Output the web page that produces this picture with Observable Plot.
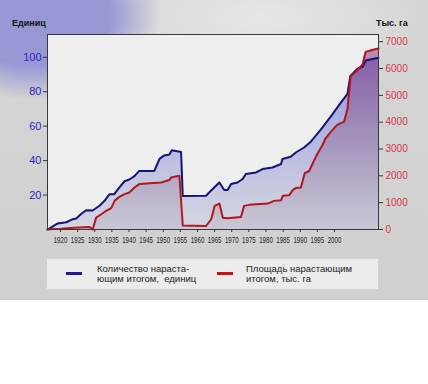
<!DOCTYPE html>
<html><head><meta charset="utf-8">
<script src="https://cdn.jsdelivr.net/npm/d3@7"></script>
<script src="https://cdn.jsdelivr.net/npm/@observablehq/plot@0.6"></script>
<style>
body{margin:0;background:#fff;}
#wrap{position:relative;width:428px;height:300px;overflow:hidden;font-family:"Liberation Sans",Arial,sans-serif;
background:
 radial-gradient(ellipse 125px 85px at 35px 15px, rgba(152,152,214,1) 60%, rgba(152,152,214,0) 100%),
 radial-gradient(ellipse 170px 60px at 260px 18px, rgba(232,232,232,0.9) 0%, rgba(232,232,232,0) 100%),
 linear-gradient(#d6d6d6,#d0d0d0);}
#wrap svg{position:absolute;left:0;top:0;}
.ttl{position:absolute;font-size:9px;font-weight:bold;color:#111;}
#legend{position:absolute;left:47px;top:259px;width:331px;height:30px;background:#ececec;}
.sw{position:absolute;top:13px;width:16px;height:3px;}
.lt{position:absolute;top:5px;font-size:9.5px;line-height:10px;color:#222;white-space:nowrap;}
</style></head><body>
<div id="wrap"></div>
<script>
// Blue series: cumulative number of units (left axis)
const blueYears = [1916.2,1917.5,1919.2,1921.7,1923.6,1924.6,1926,1927.5,1929.4,1931.4,1932.8,1934.3,1935.7,1937.2,1938.7,1940.1,1941.6,1943,1947.4,1948.9,1950.3,1951.8,1952.5,1955.2,1955.7,1962.5,1963.4,1965.4,1966.4,1967.8,1968.8,1969.8,1971.7,1973.2,1974.1,1977.1,1979,1981.9,1984.4,1984.8,1987.2,1988.7,1991.1,1993.1,1996,1998.9,2001.8,2003.8,2004.6,2006.7,2008.2,2009.1,2011.5,2012.85];
const blueUnits = [0,1.5,3.5,4.2,6,6.4,9,11.2,11,13.8,16.5,20.5,20.5,24.5,28,29,31,34,34,41,43,43.5,46,45,19.5,19.6,21.5,25.4,27.3,22.9,22.9,26.4,27.3,29.3,32.2,33.1,35.1,36,38,40.9,42.2,44.7,47.6,51,58,65.5,73.5,78.7,89,93.3,94.5,98.1,99.1,99.7];
// Red series: cumulative area, thousand ha (right axis)
const redYears = [1916.2,1918,1920.2,1924,1928.5,1929.4,1930.4,1931.9,1933.3,1934.8,1935.8,1937.2,1938.7,1940.1,1941.6,1943,1949.4,1951.8,1952.3,1954.7,1955.7,1962.5,1964,1965,1966.4,1967.4,1968.8,1972.7,1973.6,1975.1,1977.1,1980.5,1982.4,1984.4,1984.9,1986.8,1987.8,1988.7,1990.2,1991.3,1992.6,1994.5,1996.5,1997.4,1999,2000.8,2002.8,2003.8,2004.7,2006.7,2008.2,2009.1,2011.5,2012.85];
const redArea = [0,20,30,67,94,0,442,569,693,794,1067,1217,1318,1378,1565,1693,1753,1843,1940,2004,150,131,382,880,966,442,419,468,880,918,944,966,1067,1094,1255,1281,1468,1543,1565,2100,2180,2700,3150,3400,3650,3900,4020,4500,5700,5936,6150,6621,6711,6749];
const xTickYears = [1920,1925,1930,1935,1940,1945,1950,1955,1960,1965,1970,1975,1980,1985,1990,1995,2000];
const leftTicks = [20,40,60,80,100];
const rightTicks = [0,1000,2000,3000,4000,5000,6000,7000];

const k = 64.2; // thousand ha per unit on the shared vertical scale
const blue = blueYears.map((y,i)=>({year:y, v:blueUnits[i]}));
const red = redYears.map((y,i)=>({year:y, v:redArea[i]/k}));

const chart = Plot.plot({
  width:428, height:300,
  marginLeft:47, marginRight:50, marginTop:34, marginBottom:71,
  style:{background:"transparent", overflow:"visible"},
  x:{domain:[1916.2,2012.85]},
  y:{domain:[0,113.2]},
  marks:[
    Plot.frame({fill:"#eeeeee", stroke:null}),
    Plot.areaY(blue,{x:"year", y:"v", fill:"url(#gBlue)"}),
    Plot.areaY(red,{x:"year", y:"v", fill:"url(#gRed)"}),
    Plot.line(blue,{x:"year", y:"v", stroke:"#14147a", strokeWidth:2}),
    Plot.line(red,{x:"year", y:"v", stroke:"#b3161c", strokeWidth:2}),
    Plot.frame({stroke:"#3a3a3a", strokeWidth:1}),
    Plot.axisY(leftTicks,{anchor:"left", label:null, tickSize:4, tickPadding:2, fontSize:11, fill:"#2626c4", stroke:"#333", fontFamily:"Liberation Sans, Arial, sans-serif"}),
    Plot.axisY(rightTicks.map(v=>v/k),{anchor:"right", label:null, tickSize:4, tickPadding:3, fontSize:10, fill:"#d8344c", stroke:"#333", tickFormat:d=>String(Math.round(d*k/1000)*1000), fontFamily:"Liberation Sans, Arial, sans-serif"}),
    Plot.axisX(xTickYears,{anchor:"bottom", label:null, tickSize:3, tickPadding:4, fontSize:8.5, fill:"#222", stroke:"#333", tickFormat:d=>String(d), fontFamily:"Liberation Sans, Arial, sans-serif"})
  ]
});

const svg = d3.select(chart);
const defs = svg.insert("defs",":first-child");
const gb = defs.append("linearGradient").attr("id","gBlue").attr("gradientUnits","userSpaceOnUse").attr("x1",0).attr("x2",0).attr("y1",34).attr("y2",229);
gb.append("stop").attr("offset","0%").attr("stop-color","rgb(100,110,220)").attr("stop-opacity",0.8);
gb.append("stop").attr("offset","100%").attr("stop-color","rgb(165,168,205)").attr("stop-opacity",0.35);
const gr = defs.append("linearGradient").attr("id","gRed").attr("gradientUnits","userSpaceOnUse").attr("x1",0).attr("x2",0).attr("y1",34).attr("y2",229);
gr.append("stop").attr("offset","0%").attr("stop-color","rgb(135,35,110)").attr("stop-opacity",0.55);
gr.append("stop").attr("offset","100%").attr("stop-color","rgb(120,95,115)").attr("stop-opacity",0.12);

// condense the x tick labels horizontally
svg.selectAll('g[aria-label="x-axis tick label"] text').each(function(){
  const t = d3.select(this);
  const tr = t.attr("transform") || "";
  const x = t.attr("x");
  if (x != null) { t.attr("x", null); t.attr("transform", `translate(${x},0) ${tr} scale(0.72,1)`); }
  else t.attr("transform", `${tr} scale(0.72,1)`);
});

const wrap = document.getElementById("wrap");
wrap.appendChild(chart);
wrap.insertAdjacentHTML("beforeend",
 '<div class="ttl" style="left:12px;top:18px">Единиц</div>'+
 '<div class="ttl" style="left:376px;top:18px">Тыс. га</div>'+
 '<div id="legend">'+
   '<div class="sw" style="left:19px;background:#1a1a9a"></div>'+
   '<div class="lt" style="left:50px">Количество нараста-<br>ющим итогом,&nbsp; единиц</div>'+
   '<div class="sw" style="left:170px;background:#cc1111"></div>'+
   '<div class="lt" style="left:199px">Площадь нарастающим<br>итогом, тыс. га</div>'+
 '</div>');
</script>
</body></html>
